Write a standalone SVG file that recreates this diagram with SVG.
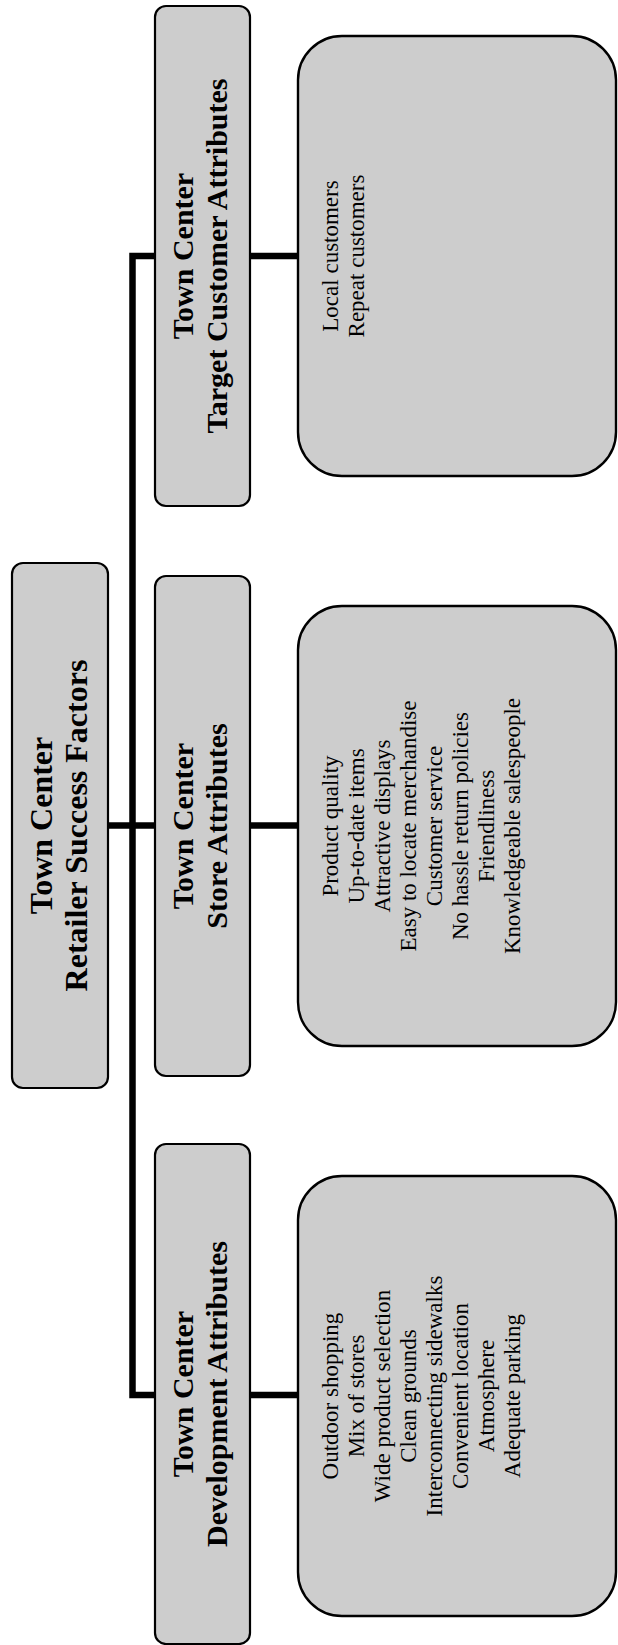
<svg xmlns="http://www.w3.org/2000/svg" width="618" height="1645" viewBox="0 0 618 1645">
<style>
.hdr{fill:#cdcdcd;stroke:#000;stroke-width:2.2}
.det{fill:#cdcdcd;stroke:#000;stroke-width:2.4}
.ht{font-family:"Liberation Serif","Times New Roman",serif;font-weight:bold;font-size:30px;fill:#000;text-anchor:middle}
.rt{font-family:"Liberation Serif","Times New Roman",serif;font-weight:bold;font-size:32px;fill:#000;text-anchor:middle}
.dt{font-family:"Liberation Serif","Times New Roman",serif;font-size:23px;fill:#000;text-anchor:middle}
.con{fill:none;stroke:#000;stroke-width:6.5;stroke-linejoin:miter;stroke-linecap:butt}
</style>
<rect width="618" height="1645" fill="#fff"/>
<g id="connectors">
<path class="con" d="M298 256 H132.5 V1395 H298"/>
<path class="con" d="M108 825.5 H298"/>
</g>
<g id="root">
<rect class="hdr" x="12" y="563" width="96" height="525" rx="11"/>
<g transform="translate(0,825.5) rotate(-90)">
<text class="rt" x="0" y="51.5">Town Center</text>
<text class="rt" x="0" y="87">Retailer Success Factors</text>
</g>
</g>
<g id="target-header">
<rect class="hdr" x="155" y="6" width="95" height="500" rx="11"/>
<g transform="translate(0,256) rotate(-90)">
<text class="ht" x="0" y="193">Town Center</text>
<text class="ht" x="0" y="227">Target Customer Attributes</text>
</g>
</g>
<g id="store-header">
<rect class="hdr" x="155" y="576" width="95" height="500" rx="11"/>
<g transform="translate(0,826) rotate(-90)">
<text class="ht" x="0" y="193">Town Center</text>
<text class="ht" x="0" y="227">Store Attributes</text>
</g>
</g>
<g id="development-header">
<rect class="hdr" x="155" y="1144" width="95" height="500" rx="11"/>
<g transform="translate(0,1394) rotate(-90)">
<text class="ht" x="0" y="193">Town Center</text>
<text class="ht" x="0" y="227">Development Attributes</text>
</g>
</g>
<g id="target-details">
<rect class="det" x="298" y="36" width="318" height="440" rx="44"/>
<g transform="translate(0,256) rotate(-90)">
<text class="dt" x="0" y="338">Local customers</text>
<text class="dt" x="0" y="364">Repeat customers</text>
</g>
</g>
<g id="store-details">
<rect class="det" x="298" y="606" width="318" height="440" rx="44"/>
<g transform="translate(0,826) rotate(-90)">
<text class="dt" x="0" y="338">Product quality</text>
<text class="dt" x="0" y="364">Up-to-date items</text>
<text class="dt" x="0" y="390">Attractive displays</text>
<text class="dt" x="0" y="416">Easy to locate merchandise</text>
<text class="dt" x="0" y="442">Customer service</text>
<text class="dt" x="0" y="468">No hassle return policies</text>
<text class="dt" x="0" y="494">Friendliness</text>
<text class="dt" x="0" y="520">Knowledgeable salespeople</text>
</g>
</g>
<g id="development-details">
<rect class="det" x="298" y="1176" width="318" height="440" rx="44"/>
<g transform="translate(0,1396) rotate(-90)">
<text class="dt" x="0" y="338">Outdoor shopping</text>
<text class="dt" x="0" y="364">Mix of stores</text>
<text class="dt" x="0" y="390">Wide product selection</text>
<text class="dt" x="0" y="416">Clean grounds</text>
<text class="dt" x="0" y="442">Interconnecting sidewalks</text>
<text class="dt" x="0" y="468">Convenient location</text>
<text class="dt" x="0" y="494">Atmosphere</text>
<text class="dt" x="0" y="520">Adequate parking</text>
</g>
</g>
</svg>
